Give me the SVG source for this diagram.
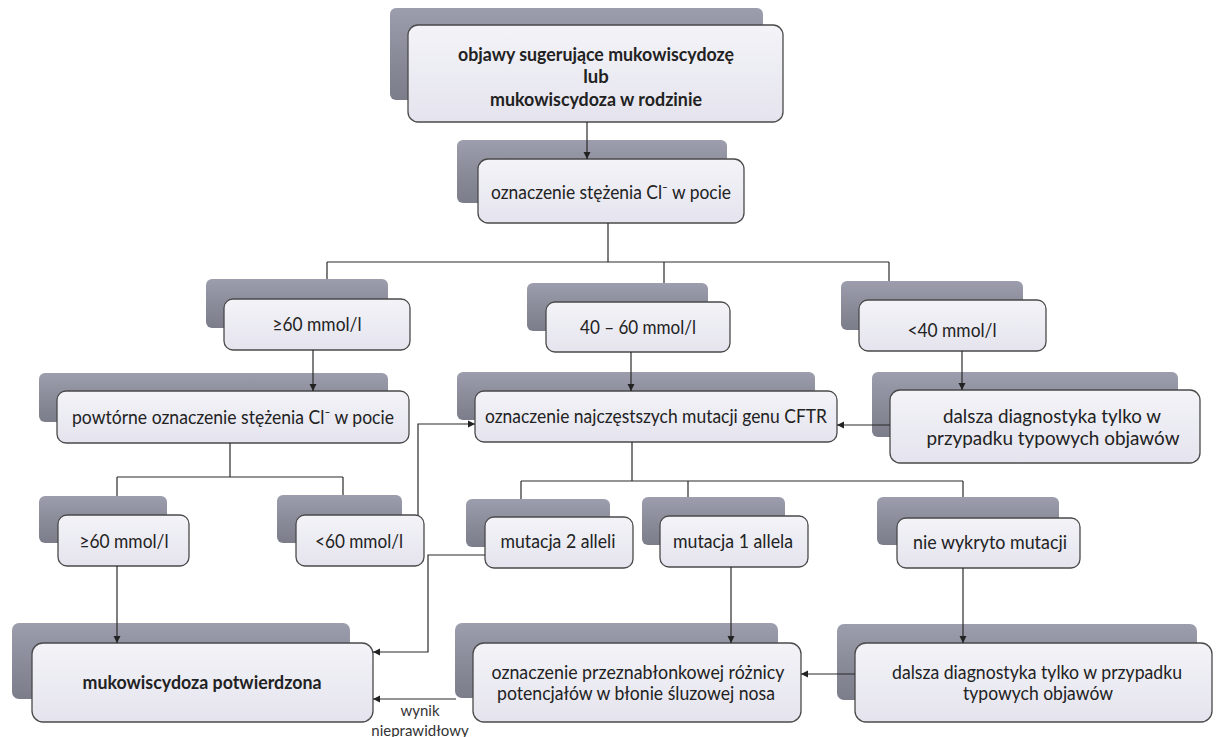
<svg xmlns="http://www.w3.org/2000/svg" width="1216" height="737" viewBox="0 0 1216 737">
<style>
.sh{fill:url(#gs);stroke:none}
.fr{fill:url(#gf);stroke:#4a4a4a;stroke-width:1.3}
.t{font-family:Lato,"Liberation Sans",sans-serif;font-size:18.5px;fill:#222;text-anchor:middle}
.b{font-weight:bold}
.lb{font-family:Lato,"Liberation Sans",sans-serif;font-size:15px;fill:#333;text-anchor:middle}
.c{fill:none;stroke:#2a2a2a;stroke-width:1.2}
</style>
<defs>
<linearGradient id="gs" x1="0" y1="0" x2="0" y2="1">
<stop offset="0" stop-color="#9c9ead"/>
<stop offset="0.5" stop-color="#8a8c9a"/>
<stop offset="1" stop-color="#7b7d8a"/>
</linearGradient>
<linearGradient id="gf" x1="0" y1="0" x2="0" y2="1">
<stop offset="0" stop-color="#f3f3f8"/>
<stop offset="1" stop-color="#e5e4ee"/>
</linearGradient>
<marker id="arr" markerWidth="8" markerHeight="8" refX="7" refY="4" orient="auto" markerUnits="userSpaceOnUse">
<path d="M0,0.5 L7,4 L0,7.5 z" fill="#222"/>
</marker>
</defs>
<rect width="1216" height="737" fill="#ffffff"/>

<g id="n1">
<rect class="sh" x="390" y="8" width="373" height="92" rx="6"/>
<rect class="fr" x="408" y="25" width="375" height="97" rx="10"/>
<text class="t b" x="596" y="61" textLength="276" lengthAdjust="spacingAndGlyphs">objawy sugerujące mukowiscydozę</text>
<text class="t b" x="596" y="83">lub</text>
<text class="t b" x="596" y="106" textLength="212" lengthAdjust="spacingAndGlyphs">mukowiscydoza w rodzinie</text>
</g>

<g id="n2">
<rect class="sh" x="457" y="140" width="270" height="63" rx="6"/>
<rect class="fr" x="478" y="159" width="266" height="64" rx="10"/>
<text class="t" x="611" y="199" textLength="240" lengthAdjust="spacingAndGlyphs">oznaczenie stężenia Cl⁻ w pocie</text>
</g>

<g id="n3">
<rect class="sh" x="206" y="279" width="182" height="49" rx="6"/>
<rect class="fr" x="224" y="299" width="186" height="51" rx="9"/>
<text class="t" x="317" y="331" textLength="89" lengthAdjust="spacingAndGlyphs">≥60 mmol/l</text>
</g>

<g id="n4">
<rect class="sh" x="527" y="283" width="181" height="48" rx="6"/>
<rect class="fr" x="546" y="302" width="184" height="50" rx="9"/>
<text class="t" x="638" y="334" textLength="116" lengthAdjust="spacingAndGlyphs">40 – 60 mmol/l</text>
</g>

<g id="n5">
<rect class="sh" x="841" y="281" width="182" height="49" rx="6"/>
<rect class="fr" x="859" y="300" width="187" height="51" rx="9"/>
<text class="t" x="952" y="337" textLength="89" lengthAdjust="spacingAndGlyphs">&lt;40 mmol/l</text>
</g>

<g id="n6">
<rect class="sh" x="39" y="373" width="349" height="49" rx="6"/>
<rect class="fr" x="57" y="391" width="352" height="52" rx="9"/>
<text class="t" x="233" y="424" textLength="322" lengthAdjust="spacingAndGlyphs">powtórne oznaczenie stężenia Cl⁻ w pocie</text>
</g>

<g id="n7">
<rect class="sh" x="457" y="372" width="358" height="48" rx="6"/>
<rect class="fr" x="475" y="391" width="362" height="51" rx="9"/>
<text class="t" x="656" y="423" textLength="342" lengthAdjust="spacingAndGlyphs">oznaczenie najczęstszych mutacji genu CFTR</text>
</g>

<g id="n8">
<rect class="sh" x="872" y="372" width="306" height="65" rx="6"/>
<rect class="fr" x="890" y="390" width="310" height="73" rx="10"/>
<text class="t" x="1052" y="423" textLength="218" lengthAdjust="spacingAndGlyphs">dalsza diagnostyka tylko w</text>
<text class="t" x="1053" y="445" textLength="253" lengthAdjust="spacingAndGlyphs">przypadku typowych objawów</text>
</g>

<g id="n9">
<rect class="sh" x="39" y="496" width="128" height="47" rx="6"/>
<rect class="fr" x="58" y="515" width="131" height="51" rx="9"/>
<text class="t" x="124" y="548" textLength="89" lengthAdjust="spacingAndGlyphs">≥60 mmol/l</text>
</g>

<g id="n10">
<rect class="sh" x="277" y="495" width="125" height="48" rx="6"/>
<rect class="fr" x="296" y="515" width="128" height="51" rx="9"/>
<text class="t" x="359" y="548" textLength="88" lengthAdjust="spacingAndGlyphs">&lt;60 mmol/l</text>
</g>

<g id="n11">
<rect class="sh" x="466" y="499" width="144" height="48" rx="6"/>
<rect class="fr" x="485" y="517" width="148" height="51" rx="9"/>
<text class="t" x="558" y="548" textLength="115" lengthAdjust="spacingAndGlyphs">mutacja 2 alleli</text>
</g>

<g id="n12">
<rect class="sh" x="642" y="497" width="143" height="48" rx="6"/>
<rect class="fr" x="660" y="516" width="148" height="51" rx="9"/>
<text class="t" x="733" y="548" textLength="120" lengthAdjust="spacingAndGlyphs">mutacja 1 allela</text>
</g>

<g id="n13">
<rect class="sh" x="877" y="497" width="182" height="48" rx="6"/>
<rect class="fr" x="897" y="518" width="183" height="50" rx="9"/>
<text class="t" x="990" y="549" textLength="154" lengthAdjust="spacingAndGlyphs">nie wykryto mutacji</text>
</g>

<g id="n14">
<rect class="sh" x="12" y="623" width="338" height="76" rx="7"/>
<rect class="fr" x="32" y="643" width="341" height="79" rx="11"/>
<text class="t b" x="202" y="689" textLength="239" lengthAdjust="spacingAndGlyphs">mukowiscydoza potwierdzona</text>
</g>

<g id="n15">
<rect class="sh" x="455" y="623" width="323" height="75" rx="7"/>
<rect class="fr" x="473" y="643" width="328" height="79" rx="11"/>
<text class="t" x="638" y="679" textLength="293" lengthAdjust="spacingAndGlyphs">oznaczenie przeznabłonkowej różnicy</text>
<text class="t" x="636" y="700" textLength="278" lengthAdjust="spacingAndGlyphs">potencjałów w błonie śluzowej nosa</text>
</g>

<g id="n16">
<rect class="sh" x="837" y="624" width="360" height="76" rx="7"/>
<rect class="fr" x="855" y="643" width="357" height="79" rx="11"/>
<text class="t" x="1037" y="679" textLength="290" lengthAdjust="spacingAndGlyphs">dalsza diagnostyka tylko w przypadku</text>
<text class="t" x="1038" y="700" textLength="150" lengthAdjust="spacingAndGlyphs">typowych objawów</text>
</g>

<g id="connectors">
<path class="c" d="M587,122 V159" marker-end="url(#arr)"/>
<path class="c" d="M608,223 V262 M327,262 H889 M327,262 V279 M664,262 V283 M889,262 V281"/>
<path class="c" d="M313,350 V391" marker-end="url(#arr)"/>
<path class="c" d="M631,352 V391" marker-end="url(#arr)"/>
<path class="c" d="M962,351 V390" marker-end="url(#arr)"/>
<path class="c" d="M890,425 H837" marker-end="url(#arr)"/>
<path class="c" d="M230,443 V477 M117,477 H343 M117,477 V496 M343,477 V495"/>
<path class="c" d="M418,515 V424 H475" marker-end="url(#arr)"/>
<path class="c" d="M632,442 V481 M521,481 H963 M521,481 V499 M688,481 V497 M963,481 V497"/>
<path class="c" d="M117,566 V643" marker-end="url(#arr)"/>
<path class="c" d="M485,555 H428 V652 H373" marker-end="url(#arr)"/>
<path class="c" d="M731,567 V643" marker-end="url(#arr)"/>
<path class="c" d="M963,568 V643" marker-end="url(#arr)"/>
<path class="c" d="M855,674 H801" marker-end="url(#arr)"/>
<path class="c" d="M456,699 H373" marker-end="url(#arr)"/>
<text class="lb" x="420" y="716">wynik</text>
<text class="lb" x="420" y="736">nieprawidłowy</text>
</g>
</svg>
